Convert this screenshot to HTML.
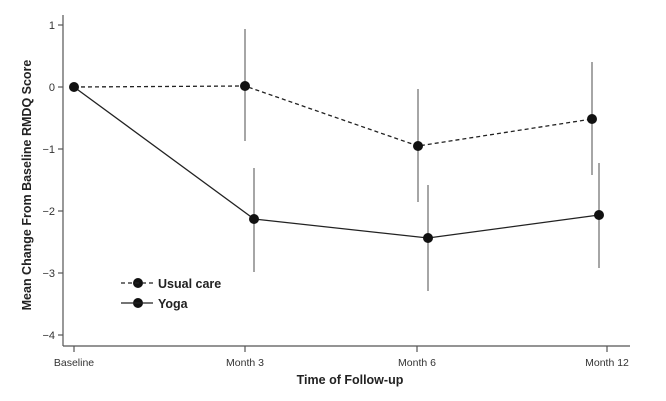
<!DOCTYPE html>
<html><head><style>body{margin:0;background:#fff}svg{display:block}</style></head><body>
<svg width="666" height="401" xmlns="http://www.w3.org/2000/svg" font-family="Liberation Sans, sans-serif">
<rect width="666" height="401" fill="#fff"/>
<g stroke="#555" stroke-width="1.2" fill="none">
<line x1="63" y1="15" x2="63" y2="346"/>
<line x1="63" y1="346" x2="630" y2="346"/>
<line x1="58" y1="25" x2="63" y2="25"/><line x1="58" y1="87" x2="63" y2="87"/><line x1="58" y1="149" x2="63" y2="149"/><line x1="58" y1="211" x2="63" y2="211"/><line x1="58" y1="273" x2="63" y2="273"/><line x1="58" y1="335" x2="63" y2="335"/>
<line x1="74" y1="346" x2="74" y2="352"/><line x1="245" y1="346" x2="245" y2="352"/><line x1="417" y1="346" x2="417" y2="352"/><line x1="607" y1="346" x2="607" y2="352"/>
</g>
<g font-size="11" fill="#333" text-anchor="end">
<text x="55" y="29">1</text><text x="55" y="91">0</text><text x="55" y="153">−1</text><text x="55" y="215">−2</text><text x="55" y="277">−3</text><text x="55" y="339">−4</text>
</g>
<g font-size="10.5" fill="#333" text-anchor="middle">
<text x="74" y="366">Baseline</text><text x="245" y="366">Month 3</text><text x="417" y="366">Month 6</text><text x="607" y="366">Month 12</text>
</g>
<text x="350" y="384" font-size="12.5" font-weight="bold" text-anchor="middle" fill="#222">Time of Follow-up</text>
<text transform="translate(31,185) rotate(-90)" font-size="12.5" font-weight="bold" text-anchor="middle" fill="#222">Mean Change From Baseline RMDQ Score</text>
<g stroke="#777" stroke-width="1.3">
<line x1="245" y1="29" x2="245" y2="141"/><line x1="418" y1="89" x2="418" y2="202"/><line x1="592" y1="62" x2="592" y2="175"/>
<line x1="254" y1="168" x2="254" y2="272"/><line x1="428" y1="185" x2="428" y2="291"/><line x1="599" y1="163" x2="599" y2="268"/>
</g>
<polyline points="74,87 245,86 418,146 592,119" fill="none" stroke="#222" stroke-width="1.3" stroke-dasharray="4,3"/>
<polyline points="74,87 254,219 428,238 599,215" fill="none" stroke="#222" stroke-width="1.3"/>
<g fill="#111">
<circle cx="74" cy="87" r="5"/><circle cx="245" cy="86" r="5"/><circle cx="418" cy="146" r="5"/><circle cx="592" cy="119" r="5"/>
<circle cx="254" cy="219" r="5"/><circle cx="428" cy="238" r="5"/><circle cx="599" cy="215" r="5"/>
<circle cx="138" cy="283" r="5"/><circle cx="138" cy="303" r="5"/>
</g>
<line x1="121" y1="283" x2="153" y2="283" stroke="#222" stroke-width="1.3" stroke-dasharray="4,3"/>
<line x1="121" y1="303" x2="153" y2="303" stroke="#222" stroke-width="1.3"/>
<g font-size="12.5" font-weight="bold" fill="#222">
<text x="158" y="288">Usual care</text><text x="158" y="308">Yoga</text>
</g>
</svg>
</body></html>
